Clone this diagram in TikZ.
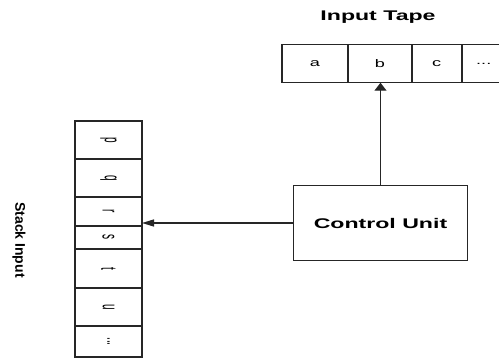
\documentclass[tikz,border=0pt]{standalone}
\usepackage{fontspec}
\setmainfont{Liberation Sans}
\usepackage{graphicx}
\usetikzlibrary{arrows.meta}
\newcommand{\wide}[1]{\scalebox{1.65}[1]{#1}}
\newcommand{\turned}[1]{\rotatebox{-90}{\scalebox{1}[2.2]{#1}}}

\begin{document}
\begin{tikzpicture}[x=1pt, y=-1pt,
  cell/.style={draw=black!85, line width=1.3pt, inner sep=0pt, outer sep=0pt,
               font=\fontsize{11}{11}\selectfont},
  slot/.style={cell, minimum width=67pt, font=\fontsize{10}{10}\selectfont},
  unit/.style={draw=black!85, line width=1.3pt, minimum width=174.5pt,
               minimum height=75.5pt, inner sep=0pt,
               font=\bfseries\fontsize{14}{14}\selectfont},
  heading/.style={font=\bfseries\fontsize{14}{14}\selectfont, inner sep=0pt},
  uparrow/.style={-{Triangle[length=8pt,width=12pt]}, line width=1.3pt, black!85},
  leftarrow/.style={-{Triangle[length=12pt,width=7pt]}, line width=1.3pt, black!85}]
  \useasboundingbox[fill=white] (0,0) rectangle (499,358);
  \node[heading] (tapetitle) at (378,17) {\wide{Input Tape}};
  \node[cell, minimum width=66pt, minimum height=38.5pt] (a) at (315,63.5) {\wide{a}};
  \node[cell, minimum width=64pt, minimum height=38.5pt] (b) at (380,63.5) {\wide{b}};
  \node[cell, minimum width=49.5pt, minimum height=38.5pt] (c) at (436.75,63.5) {\wide{c}};
  \node[cell, minimum width=42.5pt, minimum height=38.5pt] (more) at (483.75,63.5) {\wide{...}};
  \node[unit] (cu) at (380.5,223) {\wide{Control Unit}};
  \node[heading, rotate=-90] (stacktitle) at (19,240) {Stack Input};
  \node[slot, minimum height=38pt] (p) at (108.5,140) {\turned{p}};
  \node[slot, minimum height=38pt] (q) at (108.5,178) {\turned{q}};
  \node[slot, minimum height=29pt] (r) at (108.5,211.5) {\turned{r}};
  \node[slot, minimum height=23pt] (s) at (108.5,237.5) {\turned{s}};
  \node[slot, minimum height=39pt] (t) at (108.5,268.5) {\turned{t}};
  \node[slot, minimum height=38pt] (u) at (108.5,307) {\turned{u}};
  \node[slot, minimum height=31pt] (rest) at (108.5,341.5) {\turned{...}};
  \draw[uparrow] (cu.north) -- (cu.north |- b.south);
  \draw[leftarrow] (cu.west) -- (cu.west -| r.east);
\end{tikzpicture}
\end{document}
